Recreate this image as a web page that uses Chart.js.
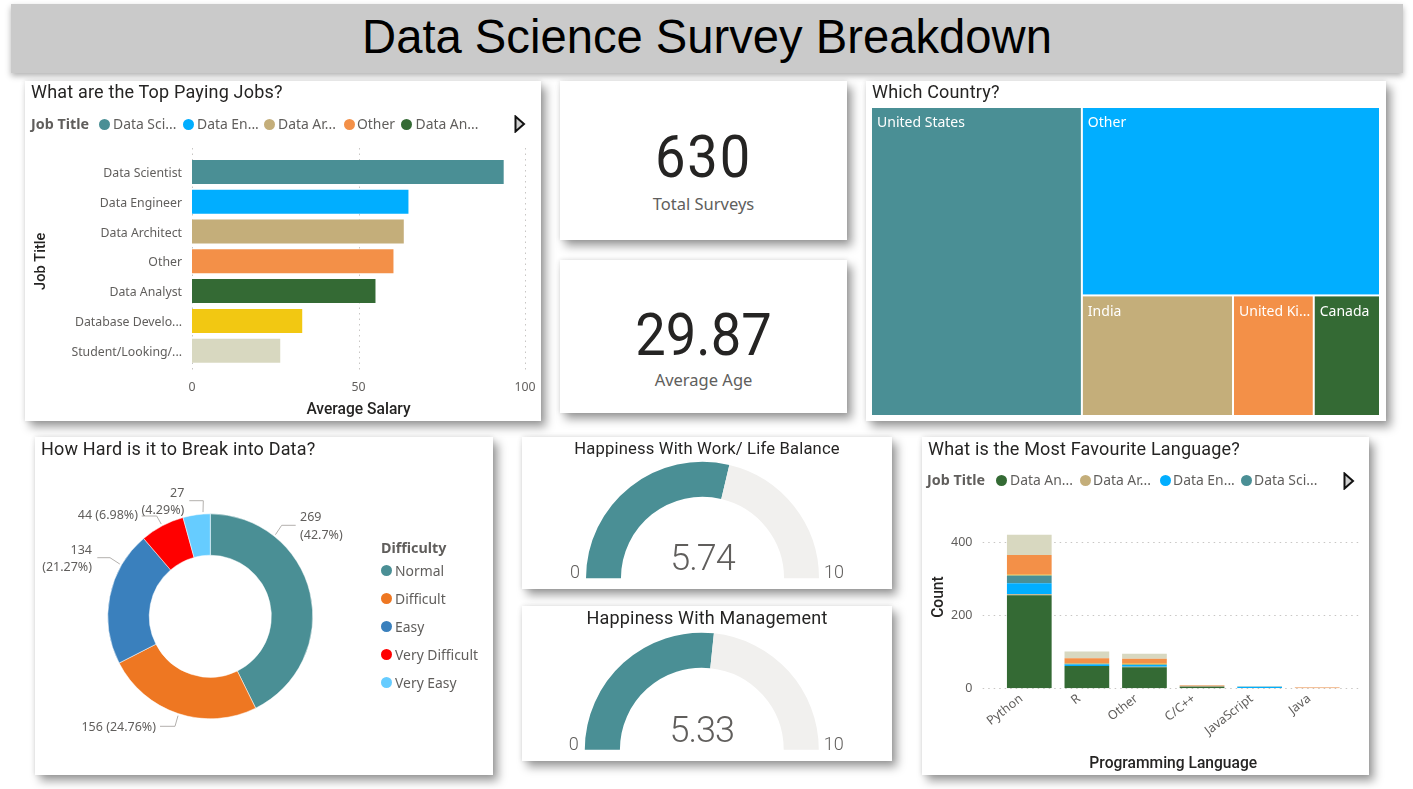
<!DOCTYPE html>
<html>
<head>
<meta charset="utf-8">
<title>Data Science Survey Breakdown</title>
<script src="https://cdn.jsdelivr.net/npm/chart.js@4/dist/chart.umd.min.js"></script>
<style>
html, body { margin: 0; padding: 0; background: #fff; overflow: hidden; }
body { position: relative; width: 1413px; height: 789px; font-family: "Noto Sans", sans-serif; }
.card { position: absolute; background: #fff; box-shadow: 5px 6px 9px rgba(0,0,0,0.38), 0 0 5px rgba(0,0,0,0.12); }
.card canvas { position: absolute; left: 0; top: 0; }
#banner { position: absolute; left: 11px; top: 4px; width: 1392px; height: 69px; background: #cacaca;
  box-shadow: 0 3px 6px rgba(0,0,0,0.3); font: 47.2px "Liberation Sans", sans-serif; color: #000; text-align: center; line-height: 66px; }
.title { position: absolute; font: 18px Roboto, sans-serif; letter-spacing: 0.18px; color: #252423; white-space: nowrap; line-height: 22px; z-index: 2; }
.title.mid { left: 0; right: 0; text-align: center; }
.kpi { position: absolute; left: 0; right: 0; text-align: center; font: 59px Roboto, sans-serif; color: #252423; line-height: 60px; transform: scaleX(0.92); }
.kpi-label { position: absolute; left: 0; right: 0; text-align: center; font: 16.5px "Noto Sans", sans-serif; color: #605e5c; line-height: 20px; }
.lg { position: absolute; font: 13.9px "Noto Sans", sans-serif; color: #605e5c; white-space: nowrap; line-height: 18px; z-index: 2; }
.lg.head { font-weight: 700; font-size: 14.3px; }
.dot { position: absolute; width: 11px; height: 11px; border-radius: 50%; z-index: 2; }
svg.more { position: absolute; z-index: 2; }
</style>
</head>
<body>
<div id="banner">Data Science Survey Breakdown</div>

<div class="card" id="card-salary" style="left:25px;top:81px;width:516px;height:340px">
  <div class="title" style="left:6px;top:0px">What are the Top Paying Jobs?</div>
  <canvas id="salary-chart" width="516" height="340"></canvas>
</div>

<div class="card" style="left:560px;top:81px;width:287px;height:159px">
  <div class="kpi" style="top:46px;letter-spacing:2px">630</div>
  <div class="kpi-label" style="top:113px">Total Surveys</div>
</div>

<div class="card" style="left:560px;top:260px;width:287px;height:153px">
  <div class="kpi" style="top:45px">29.87</div>
  <div class="kpi-label" style="top:110px">Average Age</div>
</div>

<div class="card" style="left:866px;top:81px;width:520px;height:340px">
  <div class="title" style="left:6px;top:0px">Which Country?</div>
  <canvas id="country-chart" width="520" height="340"></canvas>
</div>

<div class="card" id="card-difficulty" style="left:35px;top:437px;width:458px;height:338px">
  <div class="title" style="left:6px;top:1px">How Hard is it to Break into Data?</div>
  <canvas id="difficulty-chart" width="458" height="338"></canvas>
</div>

<div class="card" style="left:522px;top:437px;width:370px;height:152px">
  <div class="title mid" style="top:1px;font-size:16.6px">Happiness With Work/ Life Balance</div>
  <canvas id="gauge-work" width="370" height="152"></canvas>
</div>

<div class="card" style="left:522px;top:606px;width:370px;height:155px">
  <div class="title mid" style="top:1px">Happiness With Management</div>
  <canvas id="gauge-mgmt" width="370" height="155"></canvas>
</div>

<div class="card" id="card-language" style="left:922px;top:437px;width:447px;height:338px">
  <div class="title" style="left:6px;top:1px">What is the Most Favourite Language?</div>
  <canvas id="language-chart" width="447" height="338"></canvas>
</div>

<script>
// Data
const jobTitles = ['Data Scientist', 'Data Engineer', 'Data Architect', 'Other', 'Data Analyst', 'Database Develo...', 'Student/Looking/...'];
const avgSalary = [93.5, 64.9, 63.5, 60.4, 55, 33, 26.4];
const salaryTicks = [0, 50, 100];

const countries = ['United States', 'Other', 'India', 'United Ki...', 'Canada'];
const countryCounts = [261, 225, 73, 39, 32];

const difficulties = ['Normal', 'Difficult', 'Easy', 'Very Difficult', 'Very Easy'];
const difficultyCounts = [269, 156, 134, 44, 27];
const difficultyPct = ['42.7%', '24.76%', '21.27%', '6.98%', '4.29%'];

const workHappiness = 5.74;
const mgmtHappiness = 5.33;
const gaugeMax = 10;

const languages = ['Python', 'R', 'Other', 'C/C++', 'JavaScript', 'Java'];
const analystCounts   = [255, 61, 58, 4, 0, 0];
const architectCounts = [3, 0, 1, 0, 1, 0];
const engineerCounts  = [30, 4, 5, 0, 3, 0];
const scientistCounts = [21, 2, 1, 1, 0, 0];
const databaseCounts  = [2, 1, 2, 0, 0, 0];
const otherCounts     = [54, 14, 14, 3, 0, 2];
const studentCounts   = [56, 19, 14, 1, 2, 1];

const salaryLegend = ['Data Sci...', 'Data En...', 'Data Ar...', 'Other', 'Data An...'];
const languageLegend = ['Data An...', 'Data Ar...', 'Data En...', 'Data Sci...'];

// Colours
const TEAL = '#4a8f95', BLUE = '#01aeff', TAN = '#c4ae7a', ORANGE = '#f39048', GREEN = '#346a34', YELLOW = '#f2c812', PALE = '#d8d8c0';
const jobColors = [TEAL, BLUE, TAN, ORANGE, GREEN, YELLOW, PALE];
const difficultyColors = [TEAL, '#ee7722', '#3a80bd', '#ff0000', '#66ccff'];
const GAUGE_REST = '#f1f0ee';
const TICK = '#605e5c', AXIS_TITLE = '#252423', GRID = '#c8c6c4';

Chart.defaults.animation = false;
Chart.defaults.responsive = false;
Chart.defaults.font.family = '"Noto Sans", sans-serif';
Chart.defaults.plugins.legend.display = false;
Chart.defaults.plugins.tooltip.enabled = false;

// Pins an axis box to a fixed size so the plot area lands where the report has it
function fixAxis(size) {
    return s => {
        if (s.isHorizontal()) s.height = size; else s.width = size;
        s.paddingLeft = s.paddingRight = s.paddingTop = s.paddingBottom = 0;
    };
}

// Dotted grid lines that run past the plot area, Power BI style
const longGrid = {
    id: 'longGrid',
    beforeDatasetsDraw(chart, args, opts) {
        const scale = chart.scales[opts.axis];
        const ctx = chart.ctx;
        ctx.save();
        ctx.strokeStyle = GRID;
        ctx.lineWidth = 1;
        ctx.setLineDash([1.5, 4]);
        scale.ticks.forEach((t, i) => {
            const p = Math.round(scale.getPixelForTick(i)) + 0.5;
            ctx.beginPath();
            if (opts.axis === 'x') { ctx.moveTo(p, opts.from); ctx.lineTo(p, opts.to); }
            else { ctx.moveTo(opts.from, p); ctx.lineTo(opts.to, p); }
            ctx.stroke();
        });
        ctx.restore();
    }
};

const noGrid = { display: false, drawTicks: false };

// Top Paying Jobs
new Chart(document.getElementById('salary-chart'), {
    type: 'bar',
    data: {
        labels: jobTitles,
        datasets: [{ data: avgSalary, backgroundColor: jobColors, barThickness: 23.3 }]
    },
    plugins: [longGrid],
    options: {
        indexAxis: 'y',
        layout: { padding: { top: 76, right: 16, left: 0, bottom: 0 } },
        plugins: { longGrid: { axis: 'x', from: 67, to: 289 } },
        scales: {
            x: {
                min: 0, max: 100,
                afterBuildTicks: s => { s.ticks = salaryTicks.map(v => ({ value: v })); },
                afterFit: fixAxis(55.4),
                grid: noGrid, border: { display: false },
                ticks: { color: TICK, font: { size: 12.3 }, padding: 15, maxRotation: 0 },
                title: { display: true, text: 'Average Salary', color: AXIS_TITLE, font: { family: 'Roboto', size: 15.6, weight: '500' }, padding: { top: 0, bottom: 2 } }
            },
            y: {
                afterFit: fixAxis(167),
                grid: noGrid, border: { display: false },
                ticks: { color: TICK, font: { size: 12.3 }, padding: 10, autoSkip: false, labelOffset: 1.5 },
                title: { display: true, text: 'Job Title', color: AXIS_TITLE, font: { family: 'Roboto', size: 14.6, weight: '500' }, padding: { top: 8, bottom: 0 } }
            }
        }
    }
});

// Treemap: cell rectangles come from the counts, drawn through the hidden linear scales
function treemapCells(values) {
    const total = values.reduce((a, b) => a + b, 0);
    const rest = total - values[0];
    const bottom = rest - values[1];
    const otherH = values[1] / rest;
    const cells = [{ x0: 0, x1: values[0], y0: 0, y1: 1 }];
    cells.push({ x0: values[0], x1: total, y0: 0, y1: otherH });
    let x = values[0];
    values.slice(2).forEach(v => {
        const w = rest * v / bottom;
        cells.push({ x0: x, x1: x + w, y0: otherH, y1: 1 });
        x += w;
    });
    return cells.map(c => ({ ...c, x: (c.x0 + c.x1) / 2, y: (c.y0 + c.y1) / 2 }));
}

const treemapDraw = {
    id: 'treemapDraw',
    afterDatasetsDraw(chart) {
        const { ctx, scales: { x, y } } = chart;
        chart.data.datasets[0].data.forEach((c, i) => {
            const l = x.getPixelForValue(c.x0), r = x.getPixelForValue(c.x1);
            const t = y.getPixelForValue(c.y0), b = y.getPixelForValue(c.y1);
            ctx.fillStyle = jobColors[i];
            ctx.fillRect(l, t, r - l - 2, b - t - 2);
            ctx.fillStyle = '#fff';
            ctx.font = '14px "Noto Sans"';
            ctx.textBaseline = 'middle';
            ctx.fillText(countries[i], l + 5, t + 15.5);
        });
    }
};

new Chart(document.getElementById('country-chart'), {
    type: 'scatter',
    data: { datasets: [{ data: treemapCells(countryCounts), pointRadius: 0 }] },
    plugins: [treemapDraw],
    options: {
        layout: { padding: { left: 6, top: 27, right: 5, bottom: 4 } },
        scales: {
            x: { display: false, min: 0, max: countryCounts.reduce((a, b) => a + b, 0) },
            y: { display: false, min: 0, max: 1, reverse: true }
        }
    }
});

// Donut with leader lines. Offsets are from the donut centre
const leaderLayout = [
    { angle: 38.6, knee: [71.4, -91], end: [85.4, -91], textX: 89.7, textY: [-99, -80.6], align: 'left' },
    { angle: 198, knee: [-35.3, 110], end: [-50.3, 110], textX: -54.3, textY: [110.7], align: 'right' },
    { angle: 300, knee: [-100.3, -58.6], end: [-113, -58.6], textX: -118.3, textY: [-65.6, -48.6], align: 'right' },
    { angle: 332, knee: [-53.6, -100.3], end: [-68.6, -100.3], textX: -72.3, textY: [-101], align: 'right' },
    { angle: 356, knee: [-7, -115.6], end: [-21, -115.6], textX: -26, textY: [-122.6, -105.6], align: 'right' }
];

const donutLabels = {
    id: 'donutLabels',
    afterDraw(chart) {
        const ctx = chart.ctx;
        const arcs = chart.getDatasetMeta(0).data;
        arcs.forEach((arc, i) => {
            const cfg = leaderLayout[i];
            const a = cfg.angle * Math.PI / 180;
            const r = arc.outerRadius + 2;
            ctx.strokeStyle = '#b3b0ad';
            ctx.lineWidth = 1;
            ctx.beginPath();
            ctx.moveTo(arc.x + r * Math.sin(a), arc.y - r * Math.cos(a));
            ctx.lineTo(arc.x + cfg.knee[0], arc.y + cfg.knee[1]);
            ctx.lineTo(arc.x + cfg.end[0], arc.y + cfg.end[1]);
            ctx.stroke();
            ctx.fillStyle = TICK;
            ctx.font = '12.5px "Noto Sans"';
            ctx.textAlign = cfg.align;
            ctx.textBaseline = 'middle';
            const pct = '(' + difficultyPct[i] + ')';
            const lines = cfg.textY.length === 2 ? [String(difficultyCounts[i]), pct] : [difficultyCounts[i] + ' ' + pct];
            lines.forEach((line, n) => ctx.fillText(line, arc.x + cfg.textX, arc.y + cfg.textY[n]));
        });
    }
};

new Chart(document.getElementById('difficulty-chart'), {
    type: 'doughnut',
    data: {
        labels: difficulties,
        datasets: [{ data: difficultyCounts, backgroundColor: difficultyColors, borderColor: '#fff', borderWidth: 0.5 }]
    },
    plugins: [donutLabels],
    options: {
        cutout: '59.6%',
        layout: { padding: { left: 72.6, top: 76.6, right: 180, bottom: 56 } }
    }
});

// Gauges
const gaugeText = {
    id: 'gaugeText',
    afterDraw(chart) {
        const ctx = chart.ctx;
        const arc = chart.getDatasetMeta(0).data[0];
        const value = chart.data.datasets[0].data[0];
        ctx.textBaseline = 'middle';
        ctx.textAlign = 'center';
        ctx.fillStyle = TICK;
        ctx.font = '300 36px Roboto';
        ctx.letterSpacing = '-1px';
        ctx.fillText(value.toFixed(2), arc.x, arc.y - 17.2);
        ctx.letterSpacing = '0px';
        ctx.font = '300 18px Roboto';
        ctx.fillText('0', arc.x - arc.outerRadius - 11, arc.y - 4.5);
        ctx.fillText(String(gaugeMax), arc.x + arc.outerRadius + 15, arc.y - 4.5);
    }
};

function makeGauge(id, value, padding) {
    new Chart(document.getElementById(id), {
        type: 'doughnut',
        data: { datasets: [{ data: [value, gaugeMax - value], backgroundColor: [TEAL, GAUGE_REST], borderWidth: 0 }] },
        plugins: [gaugeText],
        options: { rotation: -90, circumference: 180, cutout: '70%', layout: { padding } }
    });
}
makeGauge('gauge-work', workHappiness, { left: 64, right: 73, top: 24.8, bottom: 10.7 });
makeGauge('gauge-mgmt', mgmtHappiness, { left: 62.8, right: 73.2, top: 26.7, bottom: 11.3 });

// Favourite Language
const languageSeries = [
    ['Data Analyst', analystCounts, GREEN],
    ['Data Architect', architectCounts, TAN],
    ['Data Engineer', engineerCounts, BLUE],
    ['Data Scientist', scientistCounts, TEAL],
    ['Database Developer', databaseCounts, YELLOW],
    ['Other', otherCounts, ORANGE],
    ['Student/Looking', studentCounts, PALE]
];

new Chart(document.getElementById('language-chart'), {
    type: 'bar',
    data: {
        labels: languages,
        datasets: languageSeries.map(([label, data, color]) => ({ label, data, backgroundColor: color, barThickness: 44.7, inflateAmount: 0 }))
    },
    plugins: [longGrid],
    options: {
        layout: { padding: { top: 68.8, right: 23, left: 0, bottom: 0 } },
        plugins: { longGrid: { axis: 'y', from: 60.7, to: 438 } },
        scales: {
            x: {
                stacked: true,
                afterFit: fixAxis(86.7),
                grid: noGrid, border: { display: false },
                ticks: { color: TICK, font: { size: 12.5 }, minRotation: 38, maxRotation: 38, autoSkip: false, padding: 3, labelOffset: -8 },
                title: { display: true, text: 'Programming Language', color: AXIS_TITLE, font: { family: 'Roboto', size: 15.6, weight: '500' }, padding: { top: 0, bottom: 2 } }
            },
            y: {
                stacked: true,
                min: 0, max: 500,
                afterFit: fixAxis(78.5),
                grid: noGrid, border: { display: false },
                ticks: { color: TICK, font: { size: 12.5 }, stepSize: 200, includeBounds: false, padding: 28 },
                title: { display: true, text: 'Count', color: AXIS_TITLE, font: { family: 'Roboto', size: 15.6, weight: '500' }, padding: { top: 8, bottom: 0 } }
            }
        }
    }
});

// HTML legends, positions relative to each card
function addLegend(cardId, head, headX, rowY, labels, colors, dotX, textX) {
    const card = document.getElementById(cardId);
    const add = (cls, text, left, top, color) => {
        const el = document.createElement('div');
        el.className = cls;
        el.style.left = left + 'px';
        el.style.top = top + 'px';
        if (text) el.textContent = text;
        if (color) el.style.background = color;
        card.appendChild(el);
    };
    add('lg head', head, headX, rowY - 9);
    labels.forEach((t, i) => {
        add('dot', '', dotX[i] - 5.5, rowY - 5.5, colors[i]);
        add('lg', t, textX[i], rowY - 9);
    });
}

addLegend('card-salary', 'Job Title', 6, 43, salaryLegend, [TEAL, BLUE, TAN, ORANGE, GREEN],
    [79.5, 163, 244, 324, 381], [88, 172, 253, 332, 390.5]);
addLegend('card-language', 'Job Title', 5, 43, languageLegend, [GREEN, TAN, BLUE, TEAL],
    [79.7, 163.7, 243, 324], [88, 171, 251, 332]);

// Difficulty legend is a vertical list
const diffCard = document.getElementById('card-difficulty');
const diffHead = document.createElement('div');
diffHead.className = 'lg head';
diffHead.textContent = 'Difficulty';
diffHead.style.left = '346px';
diffHead.style.top = '102px';
diffCard.appendChild(diffHead);
difficulties.forEach((name, i) => {
    const rowY = 133.7 + i * 28;
    const dot = document.createElement('div');
    dot.className = 'dot';
    dot.style.left = (351.7 - 5.5) + 'px';
    dot.style.top = (rowY - 5.5) + 'px';
    dot.style.background = difficultyColors[i];
    diffCard.appendChild(dot);
    const txt = document.createElement('div');
    txt.className = 'lg';
    txt.textContent = name;
    txt.style.left = '360px';
    txt.style.top = (rowY - 9) + 'px';
    diffCard.appendChild(txt);
});

// "More" arrows on the two legends
function addArrow(cardId, left, top) {
    const ns = 'http://www.w3.org/2000/svg';
    const svg = document.createElementNS(ns, 'svg');
    svg.setAttribute('class', 'more');
    svg.setAttribute('width', 12);
    svg.setAttribute('height', 18);
    svg.style.left = left + 'px';
    svg.style.top = top + 'px';
    const p = document.createElementNS(ns, 'polygon');
    p.setAttribute('points', '1.5,1.5 10,9 1.5,16.5');
    p.setAttribute('fill', '#d0d0d0');
    p.setAttribute('stroke', '#111');
    p.setAttribute('stroke-width', 2);
    svg.appendChild(p);
    document.getElementById(cardId).appendChild(svg);
}
addArrow('card-salary', 489, 34);
addArrow('card-language', 421, 35);
</script>
</body>
</html>
